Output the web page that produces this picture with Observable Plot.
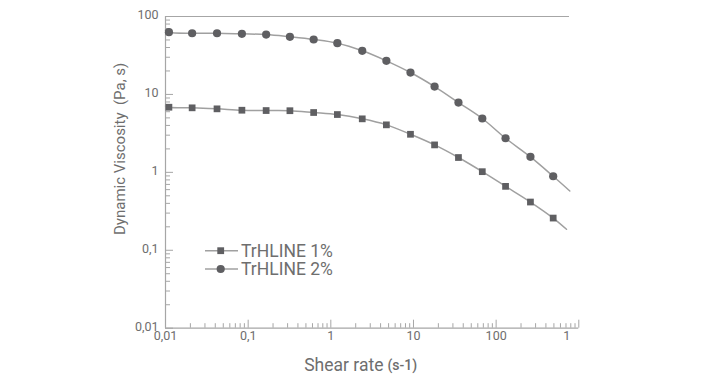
<!DOCTYPE html>
<html><head><meta charset="utf-8">
<script src="https://cdn.jsdelivr.net/npm/d3@7"></script>
<script src="https://cdn.jsdelivr.net/npm/@observablehq/plot@0.6"></script>
<style>
body{margin:0;background:#fff;}
#chart{position:relative;width:710px;height:377px;}
#legend{position:absolute;left:0;top:0;pointer-events:none;}
</style></head><body><div id="chart"></div>
<script>
// Data
const shearRate = [0.011, 0.021, 0.042, 0.084, 0.165, 0.32, 0.62, 1.2, 2.4, 4.7, 9.2, 18, 35, 68, 130, 260, 490];
const viscosity1 = [6.85, 6.73, 6.53, 6.27, 6.21, 6.18, 5.86, 5.52, 4.86, 4.07, 3.08, 2.25, 1.55, 1.02, 0.661, 0.416, 0.259];
const viscosity2 = [62.9, 61.0, 61.0, 59.9, 58.7, 54.9, 50.7, 45.4, 36.3, 27.0, 19.1, 12.6, 7.87, 4.91, 2.74, 1.58, 0.891];
// fitted-curve end points
const fitStartShear = 0.01;
const fit1Ends = [7.1, 0.186];
const fit2Ends = [66.5, 0.577];
const fitEndShear = [710, 778];
const seriesNames = ["TrHLINE 1%", "TrHLINE 2%"];
const xTicks = [0.01, 0.1, 1, 10, 100];
const xTickLabels = ["0,01", "0,1", "1", "10", "100"];
const xLastTick = [1000];
const xLastTickLabel = ["1"];
const yTicks = [0.01, 0.1, 1, 10, 100];
const yTickLabels = ["0,01", "0,1", "1", "10", "100"];
const topLineEnd = 772;
const xTitle = "Shear rate";
const xTitleUnit = "(s-1)";
const yTitle = "Dynamic Viscosity\u00a0 (Pa, s)";

const minorTicks = (lo, hi) => { const t = []; for (let p = lo; p < hi; p++) for (let k = 2; k <= 9; k++) t.push(k * Math.pow(10, p)); return t; };
const xMinor = minorTicks(-2, 3);
const yMinor = minorTicks(-2, 2);

const pts1 = shearRate.map((s, i) => ({s, v: viscosity1[i]}));
const pts2 = shearRate.map((s, i) => ({s, v: viscosity2[i]}));
const fit1 = [{s: fitStartShear, v: fit1Ends[0]}, ...pts1, {s: fitEndShear[0], v: fit1Ends[1]}];
const fit2 = [{s: fitStartShear, v: fit2Ends[0]}, ...pts2, {s: fitEndShear[1], v: fit2Ends[1]}];

const gray = "#a6a6a6";
const lineGray = "#a0a0a0";
const dark = "#5f5f62";
const textCol = "#6e6e6e";
const blank = () => "";

const chart = Plot.plot({
  width: 710, height: 377,
  marginLeft: 165, marginRight: 131.7, marginTop: 16, marginBottom: 49.3,
  x: {type: "log", domain: [0.01, 1000], label: null},
  y: {type: "log", domain: [0.01, 100], label: null},
  style: {fontFamily: "Roboto, sans-serif", color: textCol, background: "white"},
  marks: [
    Plot.ruleX([0.01], {stroke: gray, strokeWidth: 1.2}),
    Plot.ruleY([0.01], {stroke: gray, strokeWidth: 1.2}),
    Plot.ruleY([100], {x1: 0.01, x2: topLineEnd, stroke: gray, strokeWidth: 1.2}),
    Plot.axisX({ticks: [...xTicks, ...xLastTick], tickSize: -8, stroke: gray, tickFormat: blank, label: null}),
    Plot.axisX({ticks: xMinor, tickSize: -4.5, stroke: gray, tickFormat: blank, label: null}),
    Plot.axisX({ticks: xTicks, tickSize: 0, tickPadding: 3, fontSize: 12.5, fill: textCol, label: null,
      tickFormat: d => xTickLabels[xTicks.indexOf(d)]}),
    Plot.axisX({ticks: xLastTick, tickSize: 0, tickPadding: 3, fontSize: 12.5, fill: textCol, dx: -12, label: null,
      tickFormat: d => xLastTickLabel[xLastTick.indexOf(d)]}),
    Plot.axisY({ticks: yTicks, tickSize: -8, stroke: gray, tickFormat: blank, label: null}),
    Plot.axisY({ticks: yMinor, tickSize: -5, stroke: gray, tickFormat: blank, label: null}),
    Plot.axisY({ticks: yTicks, tickSize: 0, tickPadding: 7, fontSize: 12.5, fill: textCol, label: null, dy: -1.5,
      tickFormat: d => yTickLabels[yTicks.indexOf(d)]}),
    Plot.line(fit1, {x: "s", y: "v", curve: "catmull-rom", stroke: lineGray, strokeWidth: 1.5}),
    Plot.line(fit2, {x: "s", y: "v", curve: "catmull-rom", stroke: lineGray, strokeWidth: 1.5}),
    Plot.dot(pts1, {x: "s", y: "v", symbol: "square", r: 3.8, fill: dark, stroke: "none"}),
    Plot.dot(pts2, {x: "s", y: "v", symbol: "circle", r: 4.1, fill: dark, stroke: "none"}),
    Plot.text([xTitle], {frameAnchor: "bottom", textAnchor: "end", lineAnchor: "middle", dx: 11.3, dy: 36.7, fontSize: 17.5, fill: textCol}),
    Plot.text([xTitleUnit], {frameAnchor: "bottom", textAnchor: "start", lineAnchor: "middle", dx: 15.3, dy: 37.8, fontSize: 14, fontWeight: 500, fill: textCol}),
    Plot.text([yTitle], {frameAnchor: "left", rotate: -90, textAnchor: "middle", lineAnchor: "middle", dx: -45.8, dy: -23.5, fontSize: 15, fill: textCol})
  ]
});
document.getElementById("chart").append(chart);

// Legend overlay
const leg = d3.select("#chart").append("svg").attr("id", "legend").attr("width", 710).attr("height", 377);
const legRows = [{name: seriesNames[0], sym: "square", y: 250.7}, {name: seriesNames[1], sym: "circle", y: 269}];
legRows.forEach(r => {
  leg.append("line").attr("x1", 205).attr("x2", 238).attr("y1", r.y).attr("y2", r.y).attr("stroke", lineGray).attr("stroke-width", 1.5);
  if (r.sym === "square") leg.append("rect").attr("x", 220.7 - 3.4).attr("y", r.y - 3.4).attr("width", 6.8).attr("height", 6.8).attr("fill", dark);
  else leg.append("circle").attr("cx", 220.7).attr("cy", r.y).attr("r", 4.1).attr("fill", dark);
  leg.append("text").attr("x", 241).attr("y", r.y).attr("dy", "0.35em").attr("font-family", "Roboto, sans-serif").attr("font-size", 17.5).attr("fill", textCol).text(r.name);
});
</script></body></html>
